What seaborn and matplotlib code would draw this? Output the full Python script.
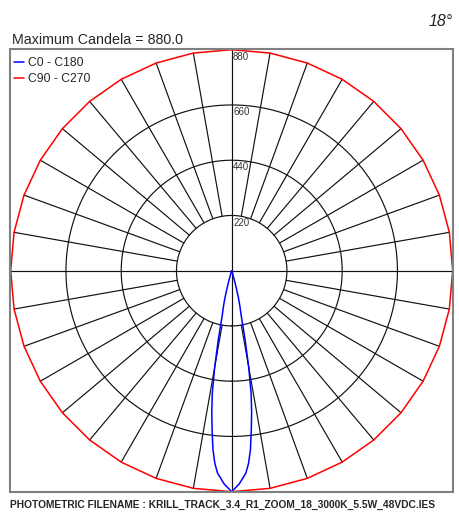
import numpy as np
import pandas as pd
import matplotlib.pyplot as plt
from matplotlib.patches import Rectangle
import seaborn as sns

# vertical angle from nadir (deg) -> candela
c0_gamma = [0, 2, 4, 5, 6, 7, 8, 9, 10, 11, 12, 13, 14, 15, 16, 17, 18]
c0_candela = [880, 850, 808, 770, 715, 640, 570, 495, 390, 280, 180, 145, 110, 66, 35, 12, 0]

c90_gamma = [0, 10, 20, 30, 40, 50, 60, 70, 80, 90, 100, 110, 120, 130, 140, 150, 160, 170, 180]
c90_candela = [880, 880, 880, 880, 880, 880, 880, 880, 880, 880, 880, 880, 880, 880, 880, 880, 880, 880, 880]

ring_values = [220, 440, 660, 880]
ring_labels = ["220", "440", "660", "880"]
max_candela = 880

planes = ["C0 - C180", "C90 - C270"]
colors = ["#0000ff", "#ff0000"]


def both_halves(gamma, cd, name):
    # one half plane on each side of nadir
    g = [-x for x in gamma[::-1]] + gamma[1:]
    c = cd[::-1] + cd[1:]
    return pd.DataFrame({"theta": np.deg2rad(g), "candela": c, "plane": name})


df = pd.concat([both_halves(c0_gamma, c0_candela, planes[0]),
                both_halves(c90_gamma, c90_candela, planes[1])])

sns.set_style("white")
plt.rcParams["font.family"] = ["Liberation Sans", "DejaVu Sans"]

fig = plt.figure(figsize=(4.59, 5.18), dpi=100)
ax = fig.add_axes([10.7 / 459, 1 - 491.7 / 518, 442 / 459, 442 / 518], projection="polar")
ax.set_theta_zero_location("S")
ax.set_facecolor("none")
ax.grid(False)
ax.spines["polar"].set_visible(False)

# grid: spokes every 10 deg outside the first ring, full axes through centre
grid_kw = dict(color="#111111", lw=0.85, clip_on=False, zorder=1)
for a in range(0, 360, 10):
    t = np.deg2rad(a)
    r0 = 0 if a % 90 == 0 else ring_values[0]
    ax.plot([t, t], [r0, max_candela], **grid_kw)
circle = np.linspace(0, 2 * np.pi, 361)
for r in ring_values[:-1]:
    ax.plot(circle, np.full_like(circle, r), **grid_kw)

for r, lab in zip(ring_values, ring_labels):
    ax.annotate(lab, xy=(np.pi, r), xytext=(1, -1.5), textcoords="offset points",
                ha="left", va="top", fontsize=7, color="#333333")

sns.lineplot(data=df, x="theta", y="candela", hue="plane", hue_order=planes,
             palette=colors, sort=False, estimator=None, lw=1.1, ax=ax,
             clip_on=False, zorder=3)

ax.set_ylim(0, max_candela)
ax.set_xticks([])
ax.set_yticks([])
ax.set_xlabel("")
ax.set_ylabel("")

ax.legend(loc="upper left", bbox_to_anchor=(14 / 459, 1 - 57 / 518),
          bbox_transform=fig.transFigure, frameon=False, fontsize=8.7,
          handlelength=0.85, handletextpad=0.3, labelspacing=0.35,
          borderpad=0, borderaxespad=0)

fig.add_artist(Rectangle((10 / 459, 1 - 492 / 518), 443 / 459, 443 / 518,
                         transform=fig.transFigure, fill=False,
                         edgecolor="#808080", lw=1.5, zorder=5))

fig.text(12 / 459, 1 - 44.5 / 518, "Maximum Candela = 880.0", fontsize=10.3,
         va="baseline", ha="left")
fig.text(429 / 459, 1 - 26 / 518, "18°", fontsize=11.5, style="italic",
         va="baseline", ha="left")
fig.text(10 / 459, 1 - 508.3 / 518,
         "PHOTOMETRIC FILENAME : KRILL_TRACK_3.4_R1_ZOOM_18_3000K_5.5W_48VDC.IES",
         fontsize=7.4, fontweight="bold", va="baseline", ha="left")

fig.savefig("out.png", dpi=100)
